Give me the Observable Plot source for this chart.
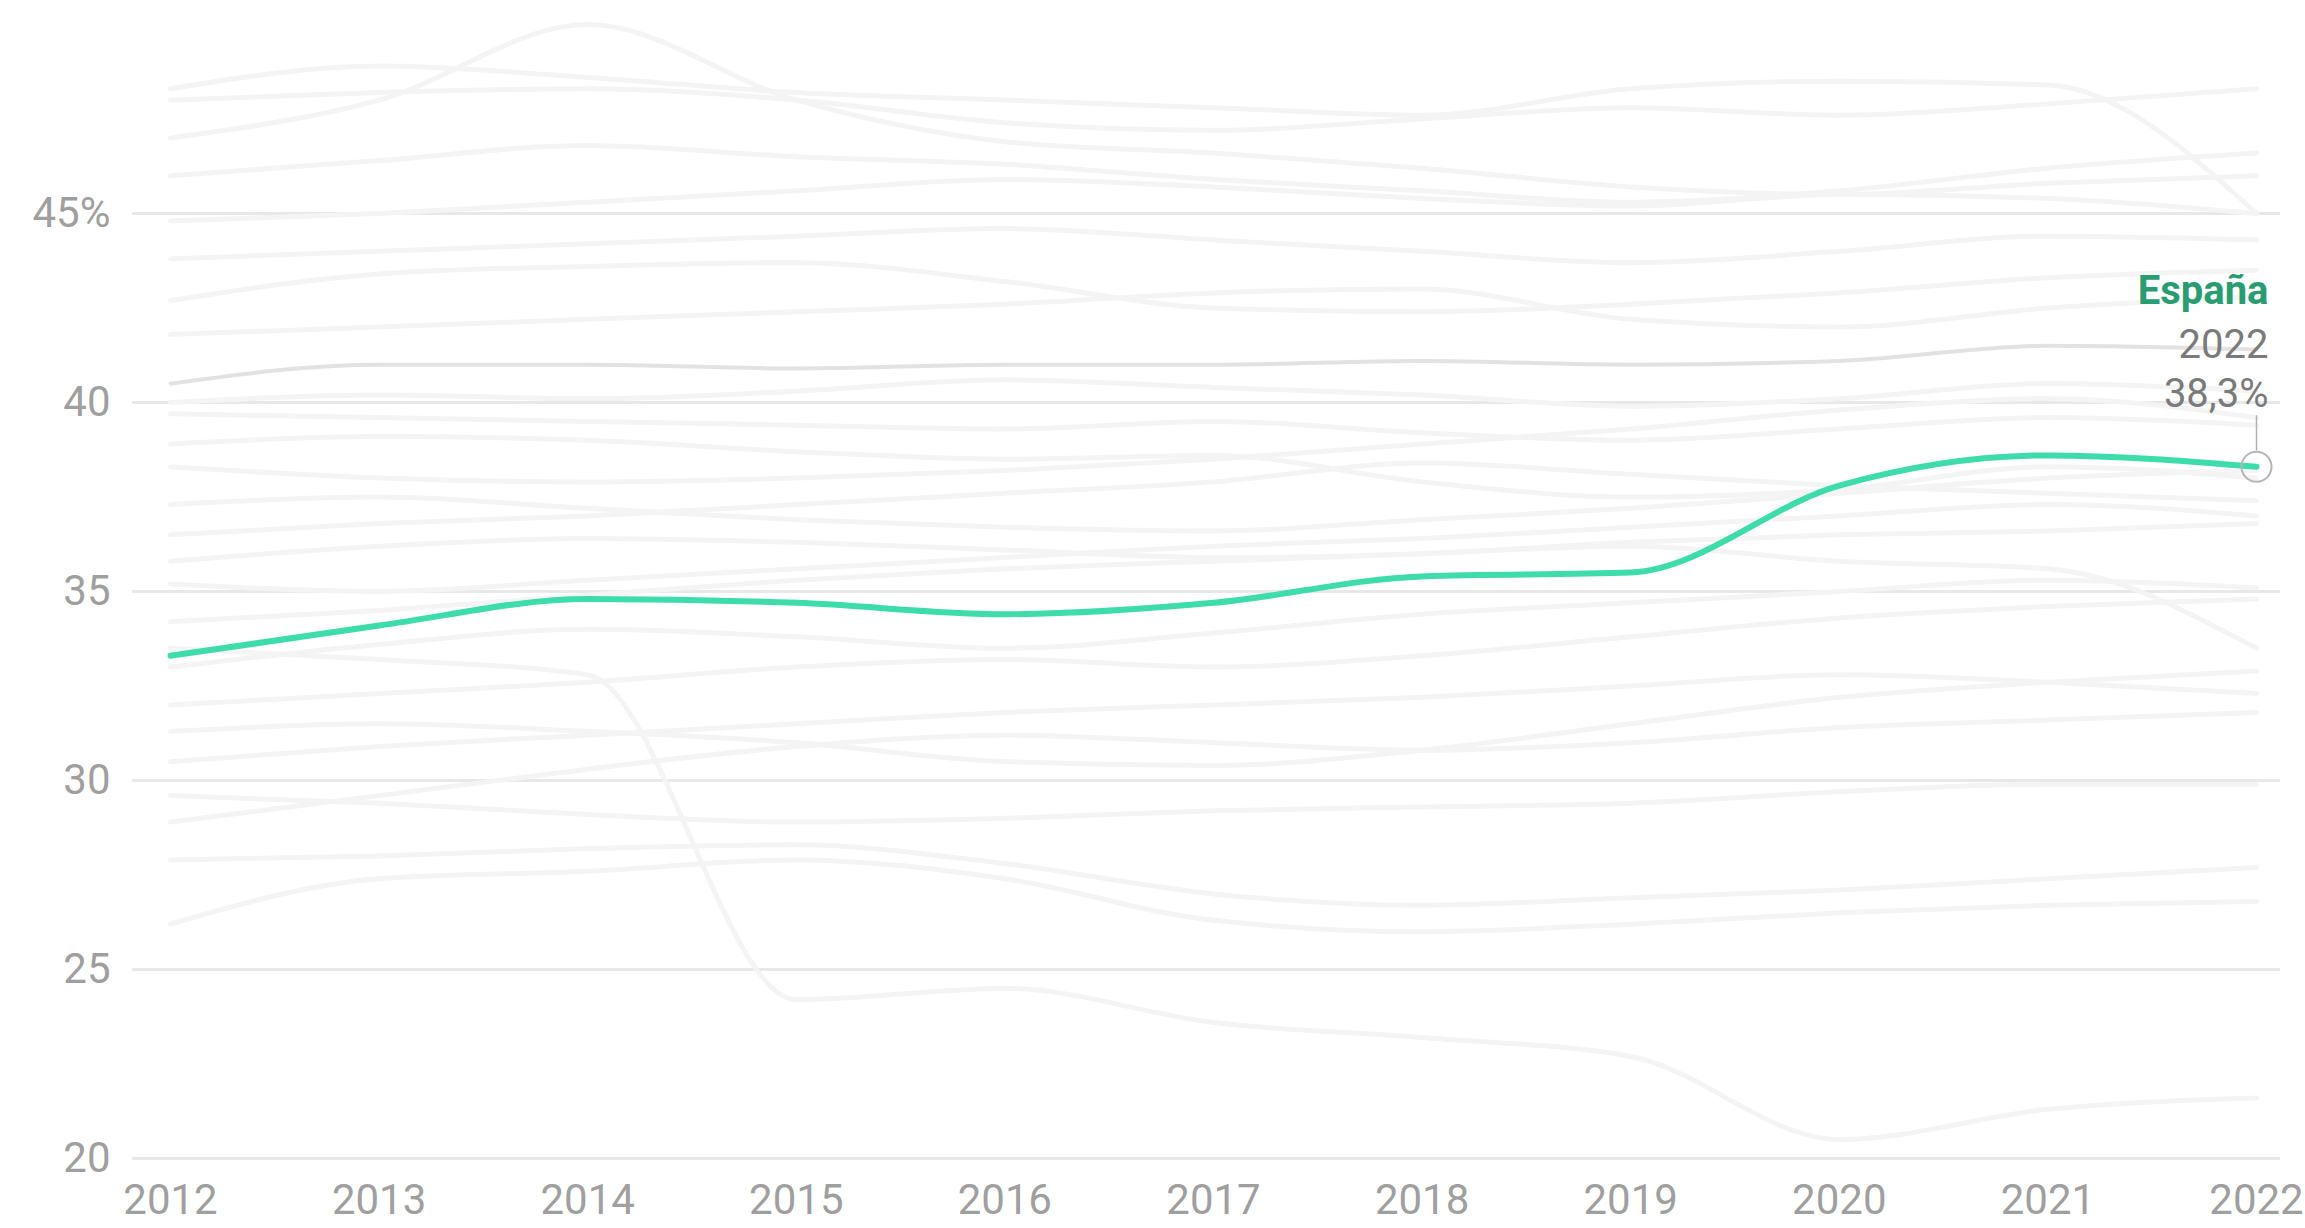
<!DOCTYPE html>
<html>
<head>
<meta charset="utf-8">
<script src="https://cdn.jsdelivr.net/npm/d3@7"></script>
<script src="https://cdn.jsdelivr.net/npm/@observablehq/plot@0.6"></script>
<style>
  html, body { margin: 0; padding: 0; background: #fff; overflow: hidden; }
  #chart svg { display: block; }
</style>
</head>
<body>
<div id="chart"></div>
<script>
// ---- Data ----
const years = [2012, 2013, 2014, 2015, 2016, 2017, 2018, 2019, 2020, 2021, 2022];

const espana = [33.3, 34.1, 34.8, 34.7, 34.4, 34.7, 35.4, 35.5, 37.8, 38.6, 38.3];
const ue27   = [40.5, 41.0, 41.0, 40.9, 41.0, 41.0, 41.1, 41.0, 41.1, 41.5, 41.4];

const otherCountries = [
  "Alemania", "Austria", "Bélgica", "Bulgaria", "Chipre", "Croacia", "Dinamarca",
  "Eslovaquia", "Eslovenia", "Estonia", "Finlandia", "Francia", "Grecia", "Hungría",
  "Irlanda", "Italia", "Letonia", "Lituania", "Luxemburgo", "Malta", "Países Bajos",
  "Polonia", "Portugal", "Rep. Checa", "Rumanía", "Suecia"
];

const otherValues = [
  [47.0, 48.0, 50.0, 48.0, 46.9, 46.6, 46.2, 45.7, 45.5, 45.8, 46.0],
  [48.3, 48.9, 48.6, 48.2, 48.0, 47.8, 47.6, 48.3, 48.5, 48.4, 45.0],
  [48.0, 48.2, 48.3, 48.0, 47.4, 47.2, 47.5, 47.8, 47.6, 47.9, 48.3],
  [46.0, 46.4, 46.8, 46.5, 46.3, 45.9, 45.6, 45.3, 45.6, 46.2, 46.6],
  [42.7, 43.4, 43.6, 43.7, 43.2, 42.5, 42.4, 42.6, 42.9, 43.3, 43.5],
  [43.8, 44.0, 44.2, 44.4, 44.6, 44.3, 44.0, 43.7, 44.0, 44.4, 44.3],
  [41.8, 42.0, 42.2, 42.4, 42.6, 42.9, 43.0, 42.2, 42.0, 42.5, 42.8],
  [39.7, 39.6, 39.5, 39.4, 39.3, 39.5, 39.2, 39.0, 39.3, 39.6, 39.4],
  [38.3, 38.0, 37.9, 38.0, 38.2, 38.5, 38.9, 39.3, 39.8, 40.1, 39.6],
  [36.5, 36.8, 37.0, 37.3, 37.6, 37.9, 38.4, 38.1, 37.8, 37.6, 37.4],
  [37.3, 37.5, 37.2, 36.9, 36.7, 36.6, 36.9, 37.2, 37.6, 38.0, 38.2],
  [35.8, 36.2, 36.4, 36.3, 36.1, 35.9, 36.0, 36.3, 36.5, 36.6, 36.8],
  [33.5, 33.2, 32.8, 24.2, 24.5, 23.6, 23.2, 22.7, 20.5, 21.3, 21.6],
  [26.2, 27.4, 27.6, 27.9, 27.4, 26.3, 26.0, 26.2, 26.5, 26.7, 26.8],
  [27.9, 28.0, 28.2, 28.3, 27.8, 27.0, 26.7, 26.9, 27.1, 27.4, 27.7],
  [28.9, 29.6, 30.3, 30.9, 31.2, 31.0, 30.8, 31.0, 31.4, 31.6, 31.8],
  [32.0, 32.3, 32.6, 33.0, 33.2, 33.0, 33.3, 33.8, 34.3, 34.6, 34.8],
  [31.3, 31.5, 31.3, 31.0, 30.5, 30.4, 30.8, 31.5, 32.2, 32.6, 32.9],
  [33.0, 33.6, 34.0, 33.8, 33.5, 33.9, 34.4, 34.7, 35.0, 35.3, 35.1],
  [34.2, 34.5, 34.9, 35.3, 35.6, 35.8, 36.0, 36.2, 35.8, 35.6, 33.5],
  [29.6, 29.4, 29.1, 28.9, 29.0, 29.2, 29.3, 29.4, 29.7, 29.9, 29.9],
  [44.8, 45.0, 45.3, 45.6, 45.9, 45.7, 45.4, 45.2, 45.5, 45.4, 45.0],
  [40.0, 40.2, 40.1, 40.3, 40.6, 40.4, 40.2, 39.9, 40.1, 40.5, 40.3],
  [38.9, 39.1, 39.0, 38.7, 38.5, 38.6, 37.9, 37.5, 37.7, 38.3, 38.0],
  [35.2, 35.0, 35.3, 35.6, 35.9, 36.2, 36.4, 36.7, 37.0, 37.3, 37.0],
  [30.5, 30.9, 31.2, 31.5, 31.8, 32.0, 32.2, 32.5, 32.8, 32.6, 32.3]
];

const yTicks = [20, 25, 30, 35, 40, 45];
const yTickLabels = ["20", "25", "30", "35", "40", "45%"];
const highlightName = "España";
const highlightValueLabel = "38,3%";

// ---- Tables built from the arrays ----
const others = otherCountries.flatMap((name, i) =>
  years.map((year, j) => ({country: name, year, value: otherValues[i][j]})));
const ueRows = years.map((year, j) => ({country: "UE-27", year, value: ue27[j]}));
const esRows = years.map((year, j) => ({country: highlightName, year, value: espana[j]}));
const last = [esRows[esRows.length - 1]];

const green = "#3ddcaa";
const greenText = "#2a9c72";
const font = "Roboto, 'Noto Sans', sans-serif";

const chart = Plot.plot({
  width: 2305,
  height: 1228,
  marginLeft: 132,
  marginRight: 25,
  marginTop: 0,
  marginBottom: 66,
  style: {fontFamily: font, fontSize: "42px", color: "#9f9f9f", background: "#fff", overflow: "visible"},
  x: {
    domain: [2012, 2022],
    range: [170, 2256],
    ticks: years,
    tickFormat: d => String(d),
    tickSize: 0,
    tickPadding: 22,
    label: null
  },
  y: {
    domain: [20, 45],
    range: [1158, 213],
    ticks: yTicks,
    tickFormat: d => yTickLabels[yTicks.indexOf(d)],
    tickSize: 0,
    tickPadding: 22,
    label: null
  },
  marks: [
    Plot.ruleY(yTicks, {stroke: "#e8e8e8", strokeWidth: 3}),
    Plot.line(others, {x: "year", y: "value", z: "country", stroke: "#f4f4f4", strokeWidth: 5, curve: "monotone-x"}),
    Plot.line(ueRows, {x: "year", y: "value", stroke: "#e2e2e2", strokeWidth: 4, curve: "monotone-x"}),
    Plot.line(esRows, {x: "year", y: "value", stroke: green, strokeWidth: 6, curve: "monotone-x"}),
    Plot.ruleX(last, {x: "year", y1: d => d.value + 0.42, y2: d => d.value + 1.35, stroke: "#b0b0b0", strokeWidth: 1.5}),
    Plot.dot(last, {x: "year", y: "value", r: 15, stroke: "#b5b5b5", strokeWidth: 2, fill: "none"}),
    Plot.text(last, {x: "year", y: "value", text: () => highlightName, dx: 12, dy: -176, textAnchor: "end",
      fill: greenText, fontWeight: "bold", fontSize: 40}),
    Plot.text(last, {x: "year", y: "value", text: d => String(d.year), dx: 12, dy: -122, textAnchor: "end",
      fill: "#7a7a7a", fontSize: 40}),
    Plot.text(last, {x: "year", y: "value", text: () => highlightValueLabel, dx: 12, dy: -73, textAnchor: "end",
      fill: "#7a7a7a", fontSize: 40})
  ]
});

document.getElementById("chart").appendChild(chart);
</script>
</body>
</html>
